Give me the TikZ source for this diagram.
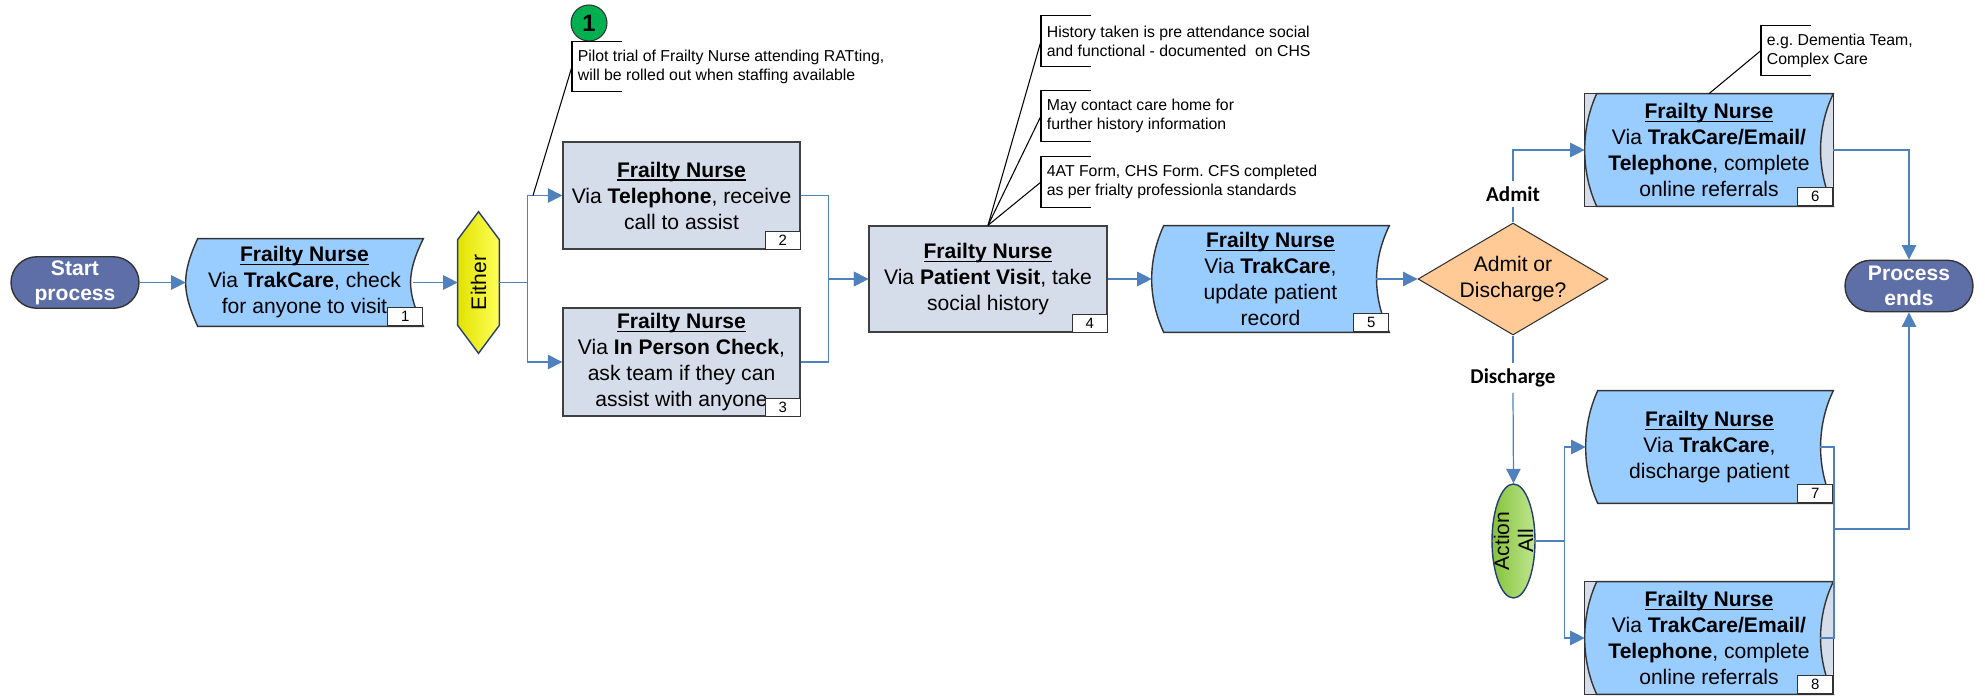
\documentclass[tikz,border=0pt]{standalone}
\usepackage{fontspec}
\setmainfont{Liberation Sans}
\newfontfamily\lblfont{Carlito}
\usepackage{graphicx}
\usetikzlibrary{positioning,calc,shapes.geometric,shapes.misc,arrows.meta,backgrounds}
\frenchspacing

\definecolor{pillblue}{RGB}{94,111,168}
\definecolor{tapeblue}{RGB}{153,204,255}
\definecolor{boxgrey}{RGB}{213,221,234}
\definecolor{lineblue}{RGB}{79,129,189}
\definecolor{hexyellowA}{RGB}{226,226,0}
\definecolor{hexyellowB}{RGB}{255,255,90}
\definecolor{hexedge}{RGB}{36,63,115}
\definecolor{peach}{RGB}{255,202,150}
\definecolor{greenA}{RGB}{132,194,56}
\definecolor{greenB}{RGB}{192,230,145}
\definecolor{markgreen}{RGB}{0,176,80}

\newcommand{\fnhead}[1]{\setbox0=\hbox{\textbf{#1}}\rlap{\rule[-2pt]{\wd0}{0.75pt}}\box0}
\newcommand{\tapeshape}[1]{%
  \draw[tapeline] ($(#1.north west)+(12,0)$) -- (#1.north east)
    .. controls ($(#1.north east)+(-17,35)$) and ($(#1.south east)+(-17,-35)$) .. (#1.south east)
    -- ($(#1.south west)+(12,0)$)
    .. controls ($(#1.south west)+(-4,-35)$) and ($(#1.north west)+(-4,35)$) .. cycle;}
\newcommand{\notebracket}[1]{%
  \draw[leader] ($(#1.north west)+(50,0)$) -- (#1.north west) -- (#1.south west) -- ++(50,0);}

\begin{document}
\begin{tikzpicture}[x=0.02cm,y=-0.02cm]
\tikzstyle{every node}=[font=\fontsize{12}{14.8}\selectfont]
\tikzstyle{conn}=[draw=lineblue,line width=0.7pt,-{Triangle[length=0.29cm,width=0.29cm]}]
\tikzstyle{wire}=[draw=lineblue,line width=0.7pt]
\tikzstyle{leader}=[draw=black,line width=0.6pt]
\tikzstyle{pill}=[rounded rectangle,draw=black!80,line width=0.8pt,fill=pillblue,text=white,font=\fontsize{12}{14.2}\selectfont\bfseries,align=center,minimum width=2.56cm,minimum height=1.03cm,inner sep=0pt]
\tikzstyle{tapebox}=[rectangle,align=center,inner sep=0pt,minimum width=4.74cm,minimum height=2.12cm]
\tikzstyle{tapeline}=[draw=black!80,line width=0.8pt,fill=tapeblue]
\tikzstyle{greyline}=[draw=black!80,line width=0.8pt,fill=boxgrey]
\tikzstyle{greybox}=[tapebox,draw=black!75,line width=0.8pt,fill=boxgrey]
\tikzstyle{numbox}=[draw=black!80,fill=white,line width=0.6pt,anchor=south east,inner sep=0pt,minimum width=0.7cm,minimum height=0.36cm,font=\fontsize{8.5}{10}\selectfont]
\tikzstyle{note}=[anchor=west,align=left,inner xsep=0.11cm,inner ysep=0pt,minimum height=1cm,font=\fontsize{9}{10.8}\selectfont]
\tikzstyle{lbl}=[font=\lblfont\bfseries\fontsize{12}{14}\selectfont,inner xsep=2pt,inner ysep=3pt]
\useasboundingbox (0,0) rectangle (1985,696);

\node[pill] (start) at (75,282.5) {Start\\process};
\node[tapebox,minimum height=1.74cm] (b1) at (304.5,282.5) {\fnhead{Frailty Nurse}\\Via \textbf{TrakCare}, check\\for anyone to visit};
\node[rectangle,inner sep=0pt,minimum width=0.82cm,minimum height=2.82cm] (either) at (478.5,282.5) {\rotatebox{90}{Either}};
\node[greybox,minimum height=2.14cm] (b2) at (681.5,195.5) {\fnhead{Frailty Nurse}\\Via \textbf{Telephone}, receive\\call to assist};
\node[greybox,minimum height=2.16cm] (b3) at (681.5,362) {\fnhead{Frailty Nurse}\\Via \textbf{In Person Check},\\ask team if they can\\assist with anyone};
\node[greybox,minimum width=4.76cm] (b4) at (988,279) {\fnhead{Frailty Nurse}\\Via \textbf{Patient Visit}, take\\social history};
\node[tapebox] (b5) at (1270.5,279) {\fnhead{Frailty Nurse}\\Via \textbf{TrakCare},\\update patient\\record};
\node[diamond,draw=black!80,line width=0.6pt,fill=peach,aspect=1.7,inner sep=0pt,minimum width=3.8cm,minimum height=2.24cm,align=center] (dec) at (1513,279) {Admit or\\Discharge?};
\node[lbl] (admit) at (1513,194) {Admit};
\node[lbl] (disch) at (1513,378) {Discharge};
\node[tapebox,minimum width=4.96cm,minimum height=2.24cm] (b6) at (1709,150) {\fnhead{Frailty Nurse}\\Via \textbf{TrakCare/Email/}\\\textbf{Telephone}, complete\\online referrals};
\node[pill] (pend) at (1909,286) {Process\\ends};
\node[ellipse,draw=hexedge,line width=0.8pt,left color=greenA,right color=greenB,minimum width=0.86cm,minimum height=2.28cm,inner sep=0pt] (actall) at (1513.5,541) {};
\node[rotate=90,align=center,font=\fontsize{12}{13.6}\selectfont] (acttext) at (actall) {Action\\All};
\node[tapebox,minimum width=4.94cm,minimum height=2.24cm] (b7) at (1709.5,447) {\fnhead{Frailty Nurse}\\Via \textbf{TrakCare},\\discharge patient};
\node[tapebox,minimum width=4.96cm,minimum height=2.24cm] (b8) at (1709,638) {\fnhead{Frailty Nurse}\\Via \textbf{TrakCare/Email/}\\\textbf{Telephone}, complete\\online referrals};

\node[numbox] (num1) at (b1.south east) {1};
\node[numbox] (num2) at (b2.south east) {2};
\node[numbox] (num3) at (b3.south east) {3};
\node[numbox] (num4) at (b4.south east) {4};
\node[numbox] (num5) at (b5.south east) {5};
\node[numbox] (num6) at (b6.south east) {6};
\node[numbox] (num7) at (b7.south east) {7};
\node[numbox] (num8) at (b8.south east) {8};

\node[circle,draw=black!80,line width=0.6pt,fill=markgreen,minimum size=0.72cm,inner sep=0pt,font=\fontsize{13.5}{14}\selectfont\bfseries] (mark1) at (589,23) {1};
\node[note] (pilot) at (572,66.5) {Pilot trial of Frailty Nurse attending RATting,\\will be rolled out when staffing available};
\node[note] (hist) at (1041,41) {History taken is pre attendance social\\and functional - documented~ on CHS};
\node[note] (care) at (1041,116) {May contact care home for\\further history information};
\node[note] (forms) at (1041,182) {4AT Form, CHS Form. CFS completed\\as per frialty professionla standards};
\node[note] (team) at (1761,50.5) {e.g. Dementia Team,\\Complex Care};

\begin{pgfonlayer}{background}
\tapeshape{b1}
\tapeshape{b5}
\draw[greyline] (b6.north west) rectangle (b6.south east);
\tapeshape{b6}
\tapeshape{b7}
\draw[greyline] (b8.north west) rectangle (b8.south east);
\tapeshape{b8}
\draw[draw=hexedge,line width=0.8pt,left color=hexyellowA,right color=hexyellowB] (either.north) -- ($(either.north east)+(0,28)$) -- ($(either.south east)+(0,-28)$) -- (either.south) -- ($(either.south west)+(0,-28)$) -- ($(either.north west)+(0,28)$) -- cycle;
\end{pgfonlayer}

\draw[conn] (start.east) -- (b1.west);
\draw[conn] ($(b1.east)+(-10,0)$) -- (either.west);
\draw[conn] (either.east) -- ++(28,0) |- (b2.west);
\draw[conn] (either.east) -- ++(28,0) |- (b3.west);
\draw[conn] (b2.east) -- ++(28,0) |- (b4.west);
\draw[conn] (b3.east) -- ++(28,0) |- (b4.west);
\draw[conn] (b4.east) -- (b5.west);
\draw[conn] ($(b5.east)+(-13,0)$) -- (dec.west);
\draw[wire] (dec.north) -- (admit.south);
\draw[conn] (admit.north) |- (b6.west);
\draw[wire] (dec.south) -- (disch.north);
\draw[conn] (disch.south) -- (actall.north);
\draw[conn] (actall.east) -- ++(29,0) |- (b7.west);
\draw[conn] (actall.east) -- ++(29,0) |- (b8.west);
\draw[conn] (b6.east) -| (pend.north);
\coordinate (merge) at (1834,529);
\draw[wire] ($(b8.east)+(-13,0)$) -| (merge);
\draw[conn] ($(b7.east)+(-13,0)$) -| (merge) -| (pend.south);

\coordinate (tap) at (533,195.5);
\draw[leader] (pilot.west) -- (tap);
\draw[leader] (b4.north) -- (hist.west);
\draw[leader] (b4.north) -- (care.west);
\draw[leader] (b4.north) -- (forms.west);
\draw[leader] (b6.north) -- (team.west);
\notebracket{pilot}
\notebracket{hist}
\notebracket{care}
\notebracket{forms}
\notebracket{team}
\end{tikzpicture}
\end{document}
